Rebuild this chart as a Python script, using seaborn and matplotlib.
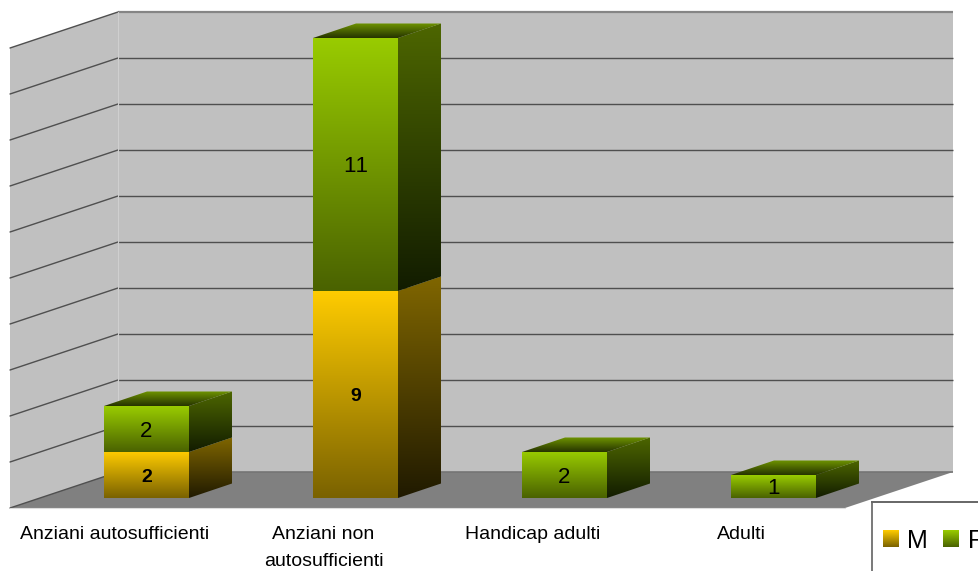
import numpy as np
import matplotlib
matplotlib.use("Agg")
import matplotlib.pyplot as plt
from matplotlib.colors import to_rgb
from matplotlib.patches import Polygon
import seaborn as sns

# ---- data
categories = ["Anziani autosufficienti", "Anziani non\nautosufficienti", "Handicap adulti", "Adulti"]
male = [2, 9, 0, 0]
female = [2, 11, 2, 1]
value_ticks = list(range(0, 21, 2))
series_names = ["M", "F"]

# ---- styles (front top, front bottom, side top, side bottom, lid back, lid front)
YELLOW = ("#FFCC00", "#7A6200", "#806600", "#201A00")
GREEN = ("#99CC00", "#4A6200", "#4D6600", "#121C00")
LID = ("#6F9500", "#263300")
WALL, FLOOR, GRID = "#C0C0C0", "#808080", "#4F4F4F"

W, H = 979, 571
BASE_PX, UNIT_PX, SLOT_PX, FIRST_PX = 498.0, 23.0, 209.0, 146.5
BAR_W = 85 / SLOT_PX
DX, DY = 43 / SLOT_PX, 14.5 / UNIT_PX          # bar depth
xpx = lambda p: (p - FIRST_PX) / SLOT_PX
ypx = lambda p: (BASE_PX - p) / UNIT_PX

sns.set_theme(style="white")
plt.rcParams["font.family"] = ["Liberation Sans", "DejaVu Sans"]
plt.rcParams["text.kerning_factor"] = 6

fig = plt.figure(figsize=(W / 100, H / 100), dpi=100, facecolor="white")
ax = fig.add_axes([0, 1 - BASE_PX / H, 1, BASE_PX / H])
ax.patch.set_alpha(0)


def gradient(axis, clip, bbox, top, bottom, z):
    t, b = np.array(to_rgb(top)), np.array(to_rgb(bottom))
    f = np.linspace(0, 1, 128)[:, None, None]
    img = (1 - f) * t[None, None, :] + f * b[None, None, :]
    im = axis.imshow(img, extent=bbox, aspect="auto", origin="upper",
                     interpolation="bilinear", zorder=z)
    im.set_clip_path(clip)
    return im


def grad_poly(verts, top, bottom, z):
    v = np.array(verts)
    p = Polygon(v, closed=True, fc="none", ec="none", zorder=z)
    ax.add_patch(p)
    gradient(ax, p, (v[:, 0].min(), v[:, 0].max(), v[:, 1].min(), v[:, 1].max()), top, bottom, z)


# ---- stacked front faces through seaborn
sns.barplot(x=categories, y=male, color=YELLOW[0], width=BAR_W, linewidth=0, ax=ax, zorder=5)
sns.barplot(x=categories, y=female, bottom=male, color=GREEN[0], width=BAR_W, linewidth=0, ax=ax, zorder=5)

# ---- 3D room
x_fl, x_fr, x_bl, x_br = xpx(10), xpx(845), xpx(118), xpx(953)
wall_lift = ypx(472)                # value level of the back wall floor line
front_drop = 36 / UNIT_PX
top_v = value_ticks[-1] + wall_lift
ax.add_patch(Polygon([(x_bl, wall_lift), (x_br, wall_lift), (x_br, top_v), (x_bl, top_v)],
                     fc=WALL, ec="none", zorder=1, clip_on=False))
ax.add_patch(Polygon([(x_fl, wall_lift - front_drop), (x_bl, wall_lift), (x_bl, top_v), (x_fl, top_v - front_drop)],
                     fc=WALL, ec="none", zorder=1, clip_on=False))
ax.add_patch(Polygon([(x_fl, wall_lift - front_drop), (x_fr, wall_lift - front_drop), (x_br, wall_lift), (x_bl, wall_lift)],
                     fc=FLOOR, ec="none", zorder=1.5, clip_on=False))
for v in value_ticks:
    yv = v + wall_lift
    c, lw = (GRID, 1.0)
    if v == value_ticks[-1]:
        c, lw = "#858585", 1.6
    if v == 0:
        c, lw = "#757575", 1.2
    ax.plot([x_bl, x_br], [yv, yv], color=c, lw=lw, zorder=2, clip_on=False, solid_capstyle="butt")
    ax.plot([x_fl, x_bl], [yv - front_drop, yv], color=GRID, lw=1.0, zorder=2, clip_on=False)
ax.plot([x_bl, x_bl], [wall_lift, top_v], color="#CFCFCF", lw=0.8, zorder=2.2)
ax.plot([x_fl, x_fr], [wall_lift - front_drop] * 2, color="#DDDDDD", lw=0.8, zorder=2.2, clip_on=False)

# ---- gradients and depth faces for each stacked segment
positions = np.arange(len(categories))
for colors, container, bottoms, heights in (
    (YELLOW, ax.containers[0], [0] * 4, male),
    (GREEN, ax.containers[1], male, female),
):
    for x, bar, b, h in zip(positions, container, bottoms, heights):
        if h == 0:
            continue
        gradient(ax, bar, (x - BAR_W / 2, x + BAR_W / 2, b, b + h), colors[0], colors[1], 6)
        r = x + BAR_W / 2
        grad_poly([(r, b), (r, b + h), (r + DX, b + h + DY), (r + DX, b + DY)], colors[2], colors[3], 6)

totals = np.add(male, female)
for x, t in zip(positions, totals):
    l, r = x - BAR_W / 2, x + BAR_W / 2
    grad_poly([(l, t), (r, t), (r + DX, t + DY), (l + DX, t + DY)], LID[0], LID[1], 6)

# ---- value labels
for container, vals, weight, size in ((ax.containers[0], male, "bold", 14), (ax.containers[1], female, "normal", 16)):
    texts = ax.bar_label(container, labels=[str(v) if v else "" for v in vals], label_type="center",
                         fontsize=size, fontweight=weight, color="black")
    for t in texts:
        t.set_zorder(8)
        t.set_va("center_baseline")

# ---- limits, category labels
ax.set_xlim(xpx(0), xpx(W))
ax.set_ylim(0, ypx(0))
for s in ax.spines.values():
    s.set_visible(False)
ax.yaxis.set_visible(False)
ax.set_xticks(positions - 32 / SLOT_PX)
ax.set_xticklabels(categories, fontsize=14, color="black", linespacing=1.8)
ax.tick_params(axis="x", length=0, pad=(526 - BASE_PX) * 0.72)
ax.grid(False)

# ---- legend (runs past the picture edge)
lg = fig.add_axes([872 / W, -20 / H, 130 / W, (571 - 502 + 20) / H])
lg.set_xticks([])
lg.set_yticks([])
lg.spines["left"].set_color("#555555")
lg.spines["top"].set_color("#666666")
lg.spines["left"].set_linewidth(1.1)
lg.spines["top"].set_linewidth(1.4)
lg.spines["right"].set_visible(False)
lg.spines["bottom"].set_visible(False)
lg.patch.set_facecolor("white")
for name, cols, x0, xt in zip(series_names, (YELLOW, GREEN), (883, 943), (907, 968)):
    lg.imshow(np.linspace(0, 1, 64)[:, None, None] * np.array(to_rgb(cols[1]))[None, None, :]
              + (1 - np.linspace(0, 1, 64)[:, None, None]) * np.array(to_rgb(cols[0]))[None, None, :],
              extent=(x0, x0 + 16, 547, 530), origin="upper", aspect="auto", interpolation="bilinear")
    lg.text(xt, 547.5, name, fontsize=18, color="black", va="baseline", ha="left", clip_on=False)
lg.set_xlim(872, 1002)
lg.set_ylim(591, 502)

fig.savefig("out.png", dpi=100, facecolor="white")
